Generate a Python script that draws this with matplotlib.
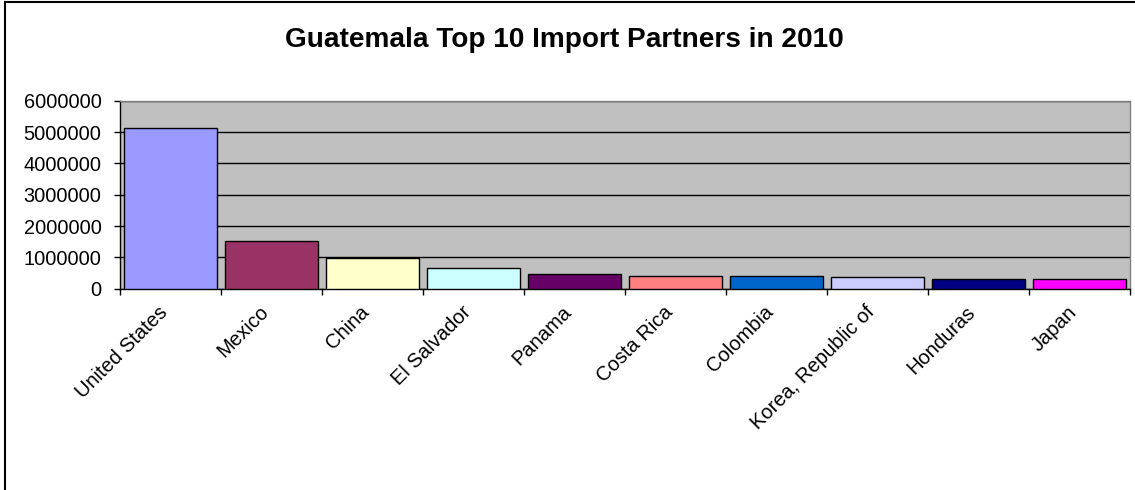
import matplotlib
matplotlib.use("Agg")
import matplotlib.pyplot as plt
from matplotlib.lines import Line2D

countries = ["United States", "Mexico", "China", "El Salvador", "Panama",
             "Costa Rica", "Colombia", "Korea, Republic of", "Honduras", "Japan"]
imports = [5120000, 1530000, 990000, 670000, 460000,
           415000, 415000, 375000, 300000, 295000]
bar_colors = ["#9999FF", "#993366", "#FFFFCC", "#CCFFFF", "#660066",
              "#FF8080", "#0066CC", "#CCCCFF", "#000080", "#FF00FF"]
y_ticks = [0, 1000000, 2000000, 3000000, 4000000, 5000000, 6000000]
title = "Guatemala Top 10 Import Partners in 2010"

plt.rcParams["font.family"] = ["Liberation Sans", "DejaVu Sans"]

W, H = 1135, 490
fig = plt.figure(figsize=(W / 100, H / 100), dpi=100)

# plot area in pixel coordinates
left, right, top, bottom = 120, 1130, 100.7, 288.7
ax = fig.add_axes([left / W, 1 - bottom / H, (right - left) / W, (bottom - top) / H])
ax.set_facecolor("#C0C0C0")

x = list(range(len(countries)))
ax.bar(x, imports, width=0.915, color=bar_colors, edgecolor="black",
       linewidth=1.0, zorder=3)

ax.set_xlim(-0.5, len(countries) - 0.5)
ax.set_ylim(0, 6000000)
ax.set_yticks(y_ticks)
ax.set_yticklabels([str(v) for v in y_ticks], fontsize=14.4)
ax.yaxis.grid(True, color="black", linewidth=1.0, zorder=1)
ax.set_axisbelow(True)

# category ticks sit on the boundaries between bars
ax.set_xticks([i - 0.5 for i in range(len(countries) + 1)])
ax.set_xticklabels([])
ax.tick_params(axis="x", direction="out", length=4.5, width=1, color="black")
ax.tick_params(axis="y", direction="out", length=4.3, width=1, color="black", pad=9)

for i, name in enumerate(countries):
    ax.annotate(name, xy=(i, 0), xycoords=("data", "axes fraction"),
                xytext=(-9, -10), textcoords="offset points",
                rotation=45, ha="right", va="top", rotation_mode="anchor",
                fontsize=14.5)

for side in ("top", "right"):
    ax.spines[side].set_color("#808080")
    ax.spines[side].set_linewidth(1.0)
for side in ("left", "bottom"):
    ax.spines[side].set_color("black")
    ax.spines[side].set_linewidth(1.0)

fig.text(564.5 / W, 1 - 46.7 / H, title, ha="center", va="baseline",
         fontsize=20.2, fontweight="bold")

# chart frame (left and top edges)
fig.add_artist(Line2D([5 / W, 5 / W], [0, 1 - 2 / H], transform=fig.transFigure,
                      color="black", linewidth=1.5))
fig.add_artist(Line2D([5 / W, 1], [1 - 2 / H, 1 - 2 / H], transform=fig.transFigure,
                      color="black", linewidth=1.5))

fig.savefig("out.png", dpi=100, facecolor="white")
